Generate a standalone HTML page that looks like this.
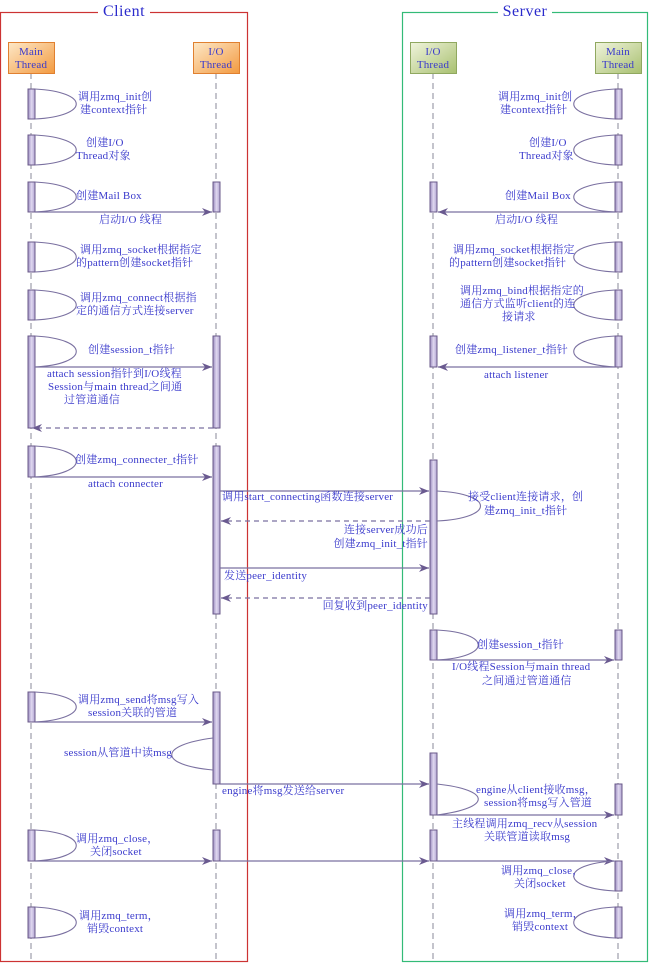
<!DOCTYPE html>
<html><head><meta charset="utf-8"><style>
html,body{margin:0;padding:0;background:#fff}
svg{display:block}
text{font-family:"Liberation Serif","Noto Serif CJK SC",serif;font-size:11px;letter-spacing:0.2px;fill:#3a3acc}
.t{font-size:16px;fill:#2a2acc;letter-spacing:0.5px}
.ll{stroke:#8a8a9a;stroke-width:1;stroke-dasharray:6,4}
.act{fill:url(#ag);stroke:#6a5a8a;stroke-width:1}
.ln{stroke:#7a70a0;stroke-width:1.2;fill:none}
.dl{stroke:#7a70a0;stroke-width:1.2;fill:none;stroke-dasharray:5,4}
.lp{stroke:#7a70a0;stroke-width:1.1;fill:none}
</style></head><body>
<svg width="650" height="964" viewBox="0 0 650 964" xmlns="http://www.w3.org/2000/svg">
<defs>
<linearGradient id="ag" x1="0" x2="1"><stop offset="0" stop-color="#9a8cc0"/><stop offset="0.5" stop-color="#e0d8f0"/><stop offset="1" stop-color="#b0a4d0"/></linearGradient>
<linearGradient id="og" x1="0" y1="0" x2="1" y2="1"><stop offset="0" stop-color="#fde8c8"/><stop offset="1" stop-color="#f39a40"/></linearGradient>
<linearGradient id="gg" x1="0" y1="0" x2="1" y2="1"><stop offset="0" stop-color="#f0f4dc"/><stop offset="1" stop-color="#a8c070"/></linearGradient>
<marker id="ar" markerWidth="10" markerHeight="8" refX="10" refY="4" orient="auto" markerUnits="userSpaceOnUse"><path d="M0,0 L10,4 L0,8 L3,4 z" fill="#6a5a90"/></marker>
</defs>
<rect x="0.5" y="12.5" width="247" height="949" fill="none" stroke="#cc3333" stroke-width="1.2"/>
<rect x="402.5" y="12.5" width="245" height="949" fill="none" stroke="#33bb77" stroke-width="1.2"/>
<rect x="98" y="3" width="52" height="16" fill="#fff"/>
<rect x="498" y="3" width="54" height="16" fill="#fff"/>
<text class="t" x="124" y="16" text-anchor="middle">Client</text>
<text class="t" x="525" y="16" text-anchor="middle">Server</text>
<line class="ll" x1="31" y1="73" x2="31" y2="962"/>
<line class="ll" x1="216" y1="73" x2="216" y2="962"/>
<line class="ll" x1="433" y1="73" x2="433" y2="962"/>
<line class="ll" x1="618" y1="73" x2="618" y2="962"/>
<rect x="8.5" y="42.5" width="46" height="31" fill="url(#og)" stroke="#e08030"/>
<rect x="193.5" y="42.5" width="46" height="31" fill="url(#og)" stroke="#e08030"/>
<rect x="410.5" y="42.5" width="46" height="31" fill="url(#gg)" stroke="#90a860"/>
<rect x="595.5" y="42.5" width="46" height="31" fill="url(#gg)" stroke="#90a860"/>
<text x="31" y="55" text-anchor="middle">Main</text><text x="31" y="68" text-anchor="middle">Thread</text>
<text x="216" y="55" text-anchor="middle">I/O</text><text x="216" y="68" text-anchor="middle">Thread</text>
<text x="433" y="55" text-anchor="middle">I/O</text><text x="433" y="68" text-anchor="middle">Thread</text>
<text x="618" y="55" text-anchor="middle">Main</text><text x="618" y="68" text-anchor="middle">Thread</text>

<rect class="act" x="28" y="89" width="7" height="30"/><path class="lp" d="M35,89 C90,92 90,116 35,119"/>
<text x="78" y="100">调用zmq_init创</text><text x="80" y="113">建context指针</text>
<rect class="act" x="615" y="89" width="7" height="30"/><path class="lp" d="M615,89 C560,92 560,116 615,119"/>
<text x="498" y="100">调用zmq_init创</text><text x="500" y="113">建context指针</text>

<rect class="act" x="28" y="135" width="7" height="30"/><path class="lp" d="M35,135 C90,138 90,162 35,165"/>
<text x="86" y="146">创建I/O</text><text x="76" y="159">Thread对象</text>
<rect class="act" x="615" y="135" width="7" height="30"/><path class="lp" d="M615,135 C560,138 560,162 615,165"/>
<text x="529" y="146">创建I/O</text><text x="519" y="159">Thread对象</text>

<rect class="act" x="28" y="182" width="7" height="30"/><path class="lp" d="M35,182 C90,185 90,209 35,212"/>
<text x="76" y="199">创建Mail Box</text>
<rect class="act" x="213" y="182" width="7" height="30"/>
<line class="ln" x1="35" y1="212" x2="212" y2="212" marker-end="url(#ar)"/>
<text x="99" y="223">启动I/O 线程</text>
<rect class="act" x="615" y="182" width="7" height="30"/><path class="lp" d="M615,182 C560,185 560,209 615,212"/>
<text x="505" y="199">创建Mail Box</text>
<rect class="act" x="430" y="182" width="7" height="30"/>
<line class="ln" x1="615" y1="212" x2="438" y2="212" marker-end="url(#ar)"/>
<text x="495" y="223">启动I/O 线程</text>

<rect class="act" x="28" y="242" width="7" height="30"/><path class="lp" d="M35,242 C90,245 90,269 35,272"/>
<text x="80" y="253">调用zmq_socket根据指定</text><text x="76" y="266">的pattern创建socket指针</text>
<rect class="act" x="615" y="242" width="7" height="30"/><path class="lp" d="M615,242 C560,245 560,269 615,272"/>
<text x="453" y="253">调用zmq_socket根据指定</text><text x="449" y="266">的pattern创建socket指针</text>

<rect class="act" x="28" y="290" width="7" height="30"/><path class="lp" d="M35,290 C90,293 90,317 35,320"/>
<text x="80" y="301">调用zmq_connect根据指</text><text x="76" y="314">定的通信方式连接server</text>
<rect class="act" x="615" y="290" width="7" height="30"/><path class="lp" d="M615,290 C560,293 560,317 615,320"/>
<text x="460" y="294">调用zmq_bind根据指定的</text><text x="460" y="307">通信方式监听client的连</text><text x="502" y="320">接请求</text>

<rect class="act" x="28" y="336" width="7" height="92"/><path class="lp" d="M35,336 C90,339 90,364 35,367"/>
<text x="88" y="353">创建session_t指针</text>
<rect class="act" x="213" y="336" width="7" height="92"/>
<line class="ln" x1="35" y1="367" x2="212" y2="367" marker-end="url(#ar)"/>
<text x="47" y="377">attach session指针到I/O线程</text><text x="48" y="390">Session与main thread之间通</text><text x="64" y="403">过管道通信</text>
<line class="dl" x1="213" y1="428" x2="32" y2="428" marker-end="url(#ar)"/>
<rect class="act" x="615" y="336" width="7" height="31"/><path class="lp" d="M615,336 C560,339 560,364 615,367"/>
<text x="455" y="353">创建zmq_listener_t指针</text>
<rect class="act" x="430" y="336" width="7" height="31"/>
<line class="ln" x1="615" y1="367" x2="438" y2="367" marker-end="url(#ar)"/>
<text x="484" y="378">attach listener</text>

<rect class="act" x="28" y="446" width="7" height="31"/><path class="lp" d="M35,446 C90,449 90,474 35,477"/>
<text x="75" y="463">创建zmq_connecter_t指针</text>
<rect class="act" x="213" y="446" width="7" height="168"/>
<line class="ln" x1="35" y1="477" x2="212" y2="477" marker-end="url(#ar)"/>
<text x="88" y="487">attach connecter</text>
<rect class="act" x="430" y="460" width="7" height="154"/>
<line class="ln" x1="220" y1="491" x2="429" y2="491" marker-end="url(#ar)"/>
<text x="222" y="500">调用start_connecting函数连接server</text>
<path class="lp" d="M437,491 C495,494 495,518 437,521"/>
<text x="468" y="500">接受client连接请求，创</text><text x="484" y="514">建zmq_init_t指针</text>
<line class="dl" x1="430" y1="521" x2="221" y2="521" marker-end="url(#ar)"/>
<text x="428" y="533" text-anchor="end">连接server成功后</text><text x="428" y="547" text-anchor="end">创建zmq_init_t指针</text>
<line class="ln" x1="220" y1="568" x2="429" y2="568" marker-end="url(#ar)"/>
<text x="224" y="579">发送peer_identity</text>
<line class="dl" x1="430" y1="598" x2="221" y2="598" marker-end="url(#ar)"/>
<text x="428" y="609" text-anchor="end">回复收到peer_identity</text>

<rect class="act" x="430" y="630" width="7" height="30"/><path class="lp" d="M437,630 C492,633 492,657 437,660"/>
<text x="477" y="648">创建session_t指针</text>
<rect class="act" x="615" y="630" width="7" height="30"/>
<line class="ln" x1="437" y1="660" x2="614" y2="660" marker-end="url(#ar)"/>
<text x="452" y="670">I/O线程Session与main thread</text><text x="482" y="684">之间通过管道通信</text>

<rect class="act" x="28" y="692" width="7" height="30"/><path class="lp" d="M35,692 C90,695 90,719 35,722"/>
<text x="78" y="703">调用zmq_send将msg写入</text><text x="88" y="716">session关联的管道</text>
<rect class="act" x="213" y="692" width="7" height="92"/>
<line class="ln" x1="35" y1="722" x2="212" y2="722" marker-end="url(#ar)"/>
<path class="lp" d="M213,738 C158,745 158,765 213,770"/>
<text x="64" y="756">session从管道中读msg</text>
<line class="ln" x1="220" y1="784" x2="429" y2="784" marker-end="url(#ar)"/>
<text x="222" y="794">engine将msg发送给server</text>
<rect class="act" x="430" y="753" width="7" height="62"/>
<path class="lp" d="M437,784 C492,790 492,808 437,815"/>
<text x="476" y="793">engine从client接收msg，</text><text x="484" y="806">session将msg写入管道</text>
<rect class="act" x="615" y="784" width="7" height="31"/>
<line class="ln" x1="437" y1="815" x2="614" y2="815" marker-end="url(#ar)"/>
<text x="452" y="827">主线程调用zmq_recv从session</text><text x="484" y="840">关联管道读取msg</text>

<rect class="act" x="28" y="830" width="7" height="31"/><path class="lp" d="M35,830 C90,833 90,858 35,861"/>
<text x="76" y="842">调用zmq_close，</text><text x="90" y="855">关闭socket</text>
<rect class="act" x="213" y="830" width="7" height="31"/>
<rect class="act" x="430" y="830" width="7" height="31"/>
<line class="ln" x1="35" y1="861" x2="212" y2="861" marker-end="url(#ar)"/>
<line class="ln" x1="220" y1="861" x2="429" y2="861" marker-end="url(#ar)"/>
<line class="ln" x1="437" y1="861" x2="614" y2="861" marker-end="url(#ar)"/>
<rect class="act" x="615" y="861" width="7" height="30"/><path class="lp" d="M615,861 C560,864 560,888 615,891"/>
<text x="501" y="874">调用zmq_close，</text><text x="514" y="887">关闭socket</text>

<rect class="act" x="28" y="907" width="7" height="31"/><path class="lp" d="M35,907 C90,910 90,935 35,938"/>
<text x="79" y="919">调用zmq_term，</text><text x="87" y="932">销毁context</text>
<rect class="act" x="615" y="907" width="7" height="31"/><path class="lp" d="M615,907 C560,910 560,935 615,938"/>
<text x="504" y="917">调用zmq_term，</text><text x="512" y="930">销毁context</text>
</svg>
</body></html>
